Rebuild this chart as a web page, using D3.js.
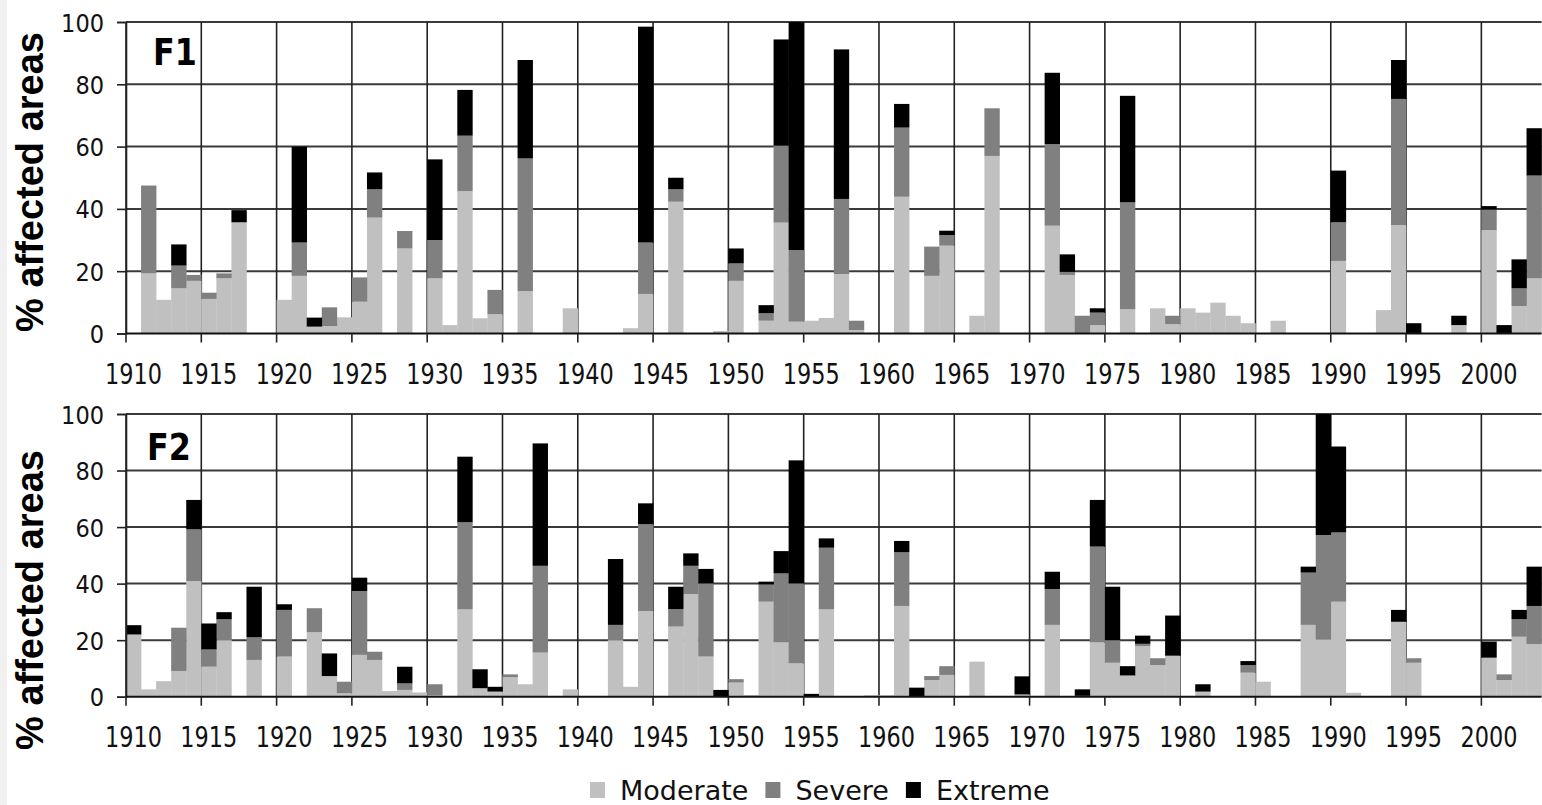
<!DOCTYPE html>
<html>
<head>
<meta charset="utf-8">
<script src="https://cdn.jsdelivr.net/npm/d3@7"></script>
<style>
  body { margin: 0; background: #fff; }
  svg { display: block; }
</style>
</head>
<body>
<svg id="chart"></svg>
<script>
// Categories
const years = d3.range(1910, 2004);
const yTicks = [0, 20, 40, 60, 80, 100];
const labelYears = years.filter(y => y % 5 === 0 && y <= 2000);
const seriesNames = ["Moderate", "Severe", "Extreme"];
const seriesColors = ["#c0c0c0", "#808080", "#000000"];

// F1 values (1910-2003)
const f1Moderate = [
  0, 19.3, 10.8, 14.5, 16.9, 11.1, 17.7, 35.7, 0, 0,
  10.8, 18.5, 2.2, 2.4, 5.2, 10.2, 37.2, 0, 27.3, 0,
  17.7, 2.7, 45.7, 4.9, 6.2, 0, 13.6, 0, 0, 8.1,
  0, 0, 0, 1.7, 12.7, 0, 42.3, 0, 0, 0.8,
  16.9, 0, 4.1, 35.6, 3.8, 4.1, 5.0, 19.1, 1.1, 0,
  0, 43.9, 0, 18.5, 28.2, 0, 5.7, 57.0, 0, 0,
  0, 34.6, 18.8, 0, 2.7, 0, 7.8, 0, 8.1, 3.0,
  8.1, 6.7, 9.9, 5.7, 3.3, 0, 4.1, 0, 0, 0,
  23.3, 0, 0, 7.5, 34.8, 0, 0, 0, 2.7, 0,
  33.2, 0, 8.8, 17.7
];
const f1Severe = [
  0, 28.2, 0, 7.3, 1.9, 2.0, 1.6, 0, 0, 0,
  0, 10.7, 0, 6.0, 0, 7.8, 9.1, 0, 5.6, 0,
  12.3, 0, 17.8, 0, 7.8, 0, 42.6, 0, 0, 0,
  0, 0, 0, 0, 16.5, 0, 4.0, 0, 0, 0,
  5.6, 0, 2.4, 24.7, 23.0, 0, 0, 24.1, 3.0, 0,
  0, 22.2, 0, 9.4, 3.4, 0, 0, 15.3, 0, 0,
  0, 26.2, 1.0, 5.7, 4.0, 0, 34.3, 0, 0, 2.7,
  0, 0, 0, 0, 0, 0, 0, 0, 0, 0,
  12.4, 0, 0, 0, 40.5, 0, 0, 0, 0, 0,
  6.6, 0, 5.7, 33.0
];
const f1Extreme = [
  0, 0, 0, 6.8, 0, 0, 0, 3.9, 0, 0,
  0, 30.8, 2.9, 0, 0, 0, 5.4, 0, 0, 0,
  25.9, 0, 14.7, 0, 0, 0, 31.6, 0, 0, 0,
  0, 0, 0, 0, 69.3, 0, 3.7, 0, 0, 0,
  4.8, 0, 2.6, 34.1, 73.2, 0, 0, 48.0, 0, 0,
  0, 7.6, 0, 0, 1.4, 0, 0, 0, 0, 0,
  0, 22.9, 5.6, 0, 1.4, 0, 34.2, 0, 0, 0,
  0, 0, 0, 0, 0, 0, 0, 0, 0, 0,
  16.6, 0, 0, 0, 12.5, 3.3, 0, 0, 3.0, 0,
  1.1, 2.7, 9.3, 15.2
];

// F2 values (1910-2003)
const f2Moderate = [
  22.0, 2.6, 5.5, 9.1, 40.9, 10.6, 20.0, 0, 13.0, 0,
  14.2, 0, 22.8, 7.3, 1.2, 14.8, 13.0, 2.0, 2.4, 1.5,
  0.5, 0, 30.9, 3.0, 1.8, 6.9, 4.4, 15.6, 0, 2.6,
  0, 0, 20.0, 3.5, 30.3, 0, 24.8, 36.3, 14.2, 0,
  5.0, 0.6, 33.6, 19.2, 11.8, 0, 30.9, 0, 0, 0.5,
  0.5, 32.1, 0, 5.9, 7.7, 0, 12.4, 0, 0, 0.8,
  0, 25.4, 0, 0.3, 19.2, 12.0, 7.5, 17.9, 11.2, 14.5,
  0, 1.8, 0, 0, 8.5, 5.3, 0, 0, 25.4, 20.3,
  33.6, 1.4, 0, 0, 26.5, 12.0, 0, 0, 0, 0,
  13.8, 5.9, 21.2, 18.6
];
const f2Severe = [
  0, 0, 0, 15.3, 18.3, 6.1, 7.4, 0, 8.0, 0,
  16.5, 0, 8.5, 0, 4.1, 22.6, 2.9, 0, 2.3, 0,
  3.9, 0, 30.8, 0, 0, 1.0, 0, 30.7, 0, 0,
  0, 0, 5.4, 0, 30.7, 0, 6.2, 10.0, 25.9, 0,
  1.2, 0, 6.1, 24.4, 28.3, 0, 21.8, 0, 0, 0,
  0, 19.0, 0, 1.4, 3.1, 0, 0, 0, 0, 0,
  0, 12.7, 0, 0, 33.9, 8.0, 0, 0.8, 2.4, 0,
  0, 0, 0, 0, 2.7, 0, 0, 0, 18.5, 36.9,
  24.5, 0, 0, 0, 0, 1.6, 0, 0, 0, 0,
  0, 2.0, 6.2, 13.5
];
const f2Extreme = [
  3.3, 0, 0, 0, 10.4, 9.2, 2.5, 0, 17.9, 0,
  2.0, 0, 0, 8.0, 0, 4.7, 0, 0, 5.9, 0,
  0, 0, 23.2, 6.7, 1.7, 0, 0, 43.3, 0, 0,
  0, 0, 23.3, 0, 7.4, 0, 7.9, 4.4, 5.1, 2.4,
  0, 0, 1.0, 7.9, 43.5, 1.0, 3.3, 0, 0, 0,
  0, 4.0, 3.2, 0, 0, 0, 0, 0, 0, 6.4,
  0, 6.1, 0, 2.3, 16.5, 18.9, 3.3, 2.9, 0, 14.2,
  0, 2.6, 0, 0, 1.4, 0, 0, 0, 2.1, 42.8,
  30.4, 0, 0, 0, 4.2, 0, 0, 0, 0, 0,
  5.7, 0, 3.3, 13.9
];

const width = 1542, height = 805;
const plotLeft = 126, plotRight = 1541.6;

const svg = d3.select("#chart")
  .attr("width", width)
  .attr("height", height)
  .style("background", "#fff");

// light strip on the left edge of the picture
svg.append("rect")
  .attr("x", 0).attr("y", 0)
  .attr("width", 7).attr("height", height)
  .attr("fill", "#f1f1f1");

const x = d3.scaleBand()
  .domain(years)
  .range([plotLeft, plotRight])
  .padding(0);

function drawPanel(cfg) {
  const y = d3.scaleLinear().domain([0, 100]).range([cfg.bottom, cfg.top]);

  const rows = years.map((yr, i) => ({
    year: yr,
    Moderate: cfg.moderate[i],
    Severe: cfg.severe[i],
    Extreme: cfg.extreme[i]
  }));
  const stacked = d3.stack().keys(seriesNames)(rows);

  const g = svg.append("g");

  // horizontal gridlines
  g.append("g")
    .selectAll("line")
    .data(yTicks.filter(t => t > 0))
    .join("line")
    .attr("x1", plotLeft).attr("x2", plotRight)
    .attr("y1", d => y(d)).attr("y2", d => y(d))
    .attr("stroke", "#3a3a3a")
    .attr("stroke-width", 2);

  // vertical gridlines at category boundaries every 5 years
  g.append("g")
    .selectAll("line")
    .data(labelYears)
    .join("line")
    .attr("x1", d => x(d)).attr("x2", d => x(d))
    .attr("y1", cfg.top).attr("y2", cfg.bottom)
    .attr("stroke", "#222")
    .attr("stroke-width", 1.6);

  // stacked bars
  g.append("g")
    .selectAll("g")
    .data(stacked)
    .join("g")
    .attr("fill", (d, i) => seriesColors[i])
    .selectAll("rect")
    .data(d => d.filter(p => p[1] - p[0] > 0))
    .join("rect")
    .attr("x", d => x(d.data.year))
    .attr("width", x.bandwidth() + 0.3)
    .attr("y", d => y(Math.min(100, d[1])))
    .attr("height", d => y(d[0]) - y(Math.min(100, d[1])));

  // y axis
  const yAxis = g.append("g")
    .attr("transform", `translate(${plotLeft},0)`)
    .call(d3.axisLeft(y).tickValues(yTicks).tickSize(9).tickFormat(d3.format("d")));
  yAxis.select(".domain").attr("stroke", "#222").attr("stroke-width", 1.6);
  yAxis.selectAll(".tick line").attr("stroke", "#222").attr("stroke-width", 1.6);
  yAxis.selectAll(".tick text")
    .attr("x", 0)
    .attr("dy", "0.36em")
    .attr("transform", "translate(-22,0) scale(0.9,1)")
    .attr("fill", "#111")
    .style("font-family", "'DejaVu Sans', Verdana, sans-serif")
    .style("font-size", "25px");

  // x axis line and tick marks at category boundaries
  g.append("line")
    .attr("x1", plotLeft).attr("x2", plotRight)
    .attr("y1", cfg.bottom).attr("y2", cfg.bottom)
    .attr("stroke", "#111").attr("stroke-width", 2);
  g.append("g")
    .selectAll("line")
    .data(labelYears)
    .join("line")
    .attr("x1", d => x(d)).attr("x2", d => x(d))
    .attr("y1", cfg.bottom).attr("y2", cfg.bottom + 9)
    .attr("stroke", "#222").attr("stroke-width", 1.6);

  // x labels centred on the category
  const xAxis = g.append("g")
    .attr("transform", `translate(0,${cfg.bottom})`)
    .call(d3.axisBottom(x).tickValues(labelYears).tickSize(0));
  xAxis.select(".domain").remove();
  xAxis.selectAll(".tick text")
    .attr("y", 0)
    .attr("dy", 0)
    .attr("transform", "translate(0,50) scale(0.8,1)")
    .attr("fill", "#111")
    .style("font-family", "'DejaVu Sans', Verdana, sans-serif")
    .style("font-size", "28px");

  // panel label
  g.append("text")
    .attr("transform", `translate(${cfg.labelX},${cfg.labelY}) scale(0.86,1)`)
    .attr("fill", "#000")
    .style("font-family", "'DejaVu Sans', Verdana, sans-serif")
    .style("font-weight", "bold")
    .style("font-size", "37px")
    .text(cfg.label);

  // axis title
  g.append("text")
    .attr("transform", `translate(43,${cfg.titleY}) rotate(-90)`)
    .attr("text-anchor", "middle")
    .attr("fill", "#000")
    .style("font-family", "'Liberation Sans', Arial, sans-serif")
    .style("font-weight", "bold")
    .style("font-size", "38px")
    .text("% affected areas");
}

drawPanel({
  top: 22, bottom: 333.5,
  moderate: f1Moderate, severe: f1Severe, extreme: f1Extreme,
  label: "F1", labelX: 153, labelY: 65, titleY: 182
});

drawPanel({
  top: 414, bottom: 696.7,
  moderate: f2Moderate, severe: f2Severe, extreme: f2Extreme,
  label: "F2", labelX: 147, labelY: 460, titleY: 600
});

// legend
const legend = svg.append("g").attr("transform", "translate(590,0)");
let lx = 0;
seriesNames.forEach((name, i) => {
  legend.append("rect")
    .attr("x", lx).attr("y", 782)
    .attr("width", 15).attr("height", 16)
    .attr("fill", seriesColors[i]);
  const t = legend.append("text")
    .attr("x", lx + 30).attr("y", 800)
    .attr("fill", "#111")
    .style("font-family", "'DejaVu Sans', Verdana, sans-serif")
    .style("font-size", "27px")
    .text(name);
  lx += 30 + t.node().getComputedTextLength() + 17;
});
</script>
</body>
</html>
